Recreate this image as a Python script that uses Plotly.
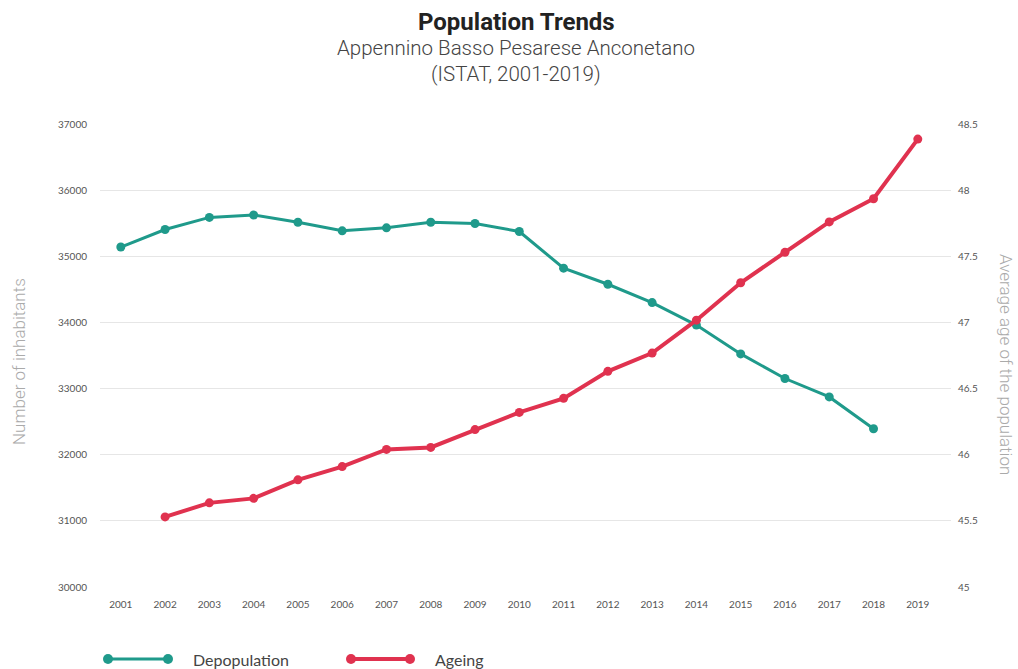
import plotly.graph_objects as go

years = list(range(2001, 2020))
inhabitants_years = list(range(2001, 2019))
inhabitants = [35140, 35405, 35588, 35625, 35515, 35385, 35430, 35515, 35495, 35375,
               34820, 34577, 34300, 33960, 33524, 33152, 32874, 32393]
ageing_years = list(range(2002, 2020))
avg_age = [45.53, 45.636, 45.67, 45.81, 45.91, 46.04, 46.055, 46.19, 46.32,
           46.426, 46.63, 46.768, 47.017, 47.30, 47.53, 47.76, 47.935, 48.386]
left_ticks = [30000, 31000, 32000, 33000, 34000, 35000, 36000, 37000]
right_ticks = [45, 45.5, 46, 46.5, 47, 47.5, 48, 48.5]
right_labels = ["45", "45.5", "46", "46.5", "47", "47.5", "48", "48.5"]

TEAL = "#1f9a8b"
RED = "#e0324f"
W, H = 1018, 669
L, R, T, B = 100, 951, 124, 587


def px(x):
    return (x - L) / (R - L)


def py(y):
    return (B - y) / (B - T)


fig = go.Figure()
fig.add_trace(go.Scatter(x=inhabitants_years, y=inhabitants, mode="lines+markers",
                         name="Depopulation", line=dict(color=TEAL, width=3),
                         marker=dict(color=TEAL, size=9), yaxis="y"))
fig.add_trace(go.Scatter(x=ageing_years, y=avg_age, mode="lines+markers",
                         name="Ageing", line=dict(color=RED, width=4),
                         marker=dict(color=RED, size=9), yaxis="y2"))

tickfont = dict(family="Lato, Carlito, sans-serif", size=10, color="#555")

fig.update_layout(
    width=W, height=H,
    margin=dict(l=L, r=W - R, t=T, b=H - B),
    paper_bgcolor="white", plot_bgcolor="white",
    showlegend=False,
    xaxis=dict(range=[2000.53, 2019.75], tickmode="array", tickvals=years,
               ticktext=[str(y) for y in years], showgrid=False, zeroline=False,
               showline=False, ticks="", tickfont=tickfont, ticklabelstandoff=10),
    yaxis=dict(range=[30000, 37000], tickvals=left_ticks,
               ticktext=[str(v) for v in left_ticks], showgrid=True,
               gridcolor="#e6e6e6", gridwidth=1, zeroline=False, ticks="",
               tickfont=tickfont, ticklabelstandoff=12),
    yaxis2=dict(range=[45, 48.5], tickvals=right_ticks, ticktext=right_labels,
                overlaying="y", side="right", showgrid=False, zeroline=False,
                ticks="", tickfont=tickfont, ticklabelstandoff=6),
)

annotations = [
    dict(text="<b>Population Trends</b>", x=px(516), y=py(22), xref="paper", yref="paper",
         showarrow=False, xanchor="center", yanchor="middle",
         font=dict(family="Roboto", size=24, color="#222")),
    dict(text="Appennino Basso Pesarese Anconetano", x=px(516), y=py(48), xref="paper",
         yref="paper", showarrow=False, xanchor="center", yanchor="middle",
         font=dict(family="Roboto", size=20.5, color="#444", weight=300)),
    dict(text="(ISTAT, 2001-2019)", x=px(516), y=py(74), xref="paper", yref="paper",
         showarrow=False, xanchor="center", yanchor="middle",
         font=dict(family="Roboto", size=20.5, color="#444", weight=300)),
    dict(text="Number of inhabitants", x=px(19), y=py(362), xref="paper", yref="paper",
         showarrow=False, textangle=-90, xanchor="center", yanchor="middle",
         font=dict(family="Roboto", size=17, color="#aaa", weight=300)),
    dict(text="Average age of the population", x=px(1006), y=py(364), xref="paper",
         yref="paper", showarrow=False, textangle=90, xanchor="center", yanchor="middle",
         font=dict(family="Roboto", size=17, color="#aaa", weight=300)),
    dict(text="Depopulation", x=px(191), y=py(659), xref="paper", yref="paper",
         showarrow=False, xanchor="left", yanchor="middle",
         font=dict(family="Lato, sans-serif", size=16, color="#444")),
    dict(text="Ageing", x=px(433), y=py(659), xref="paper", yref="paper",
         showarrow=False, xanchor="left", yanchor="middle",
         font=dict(family="Lato, sans-serif", size=16, color="#444")),
]

shapes = []
for (x0, x1, col, w) in [(108, 168, TEAL, 3), (351, 410, RED, 4)]:
    yc = py(659)
    shapes.append(dict(type="line", xref="paper", yref="paper", x0=px(x0), x1=px(x1),
                       y0=yc, y1=yc, line=dict(color=col, width=w)))
    r = 5
    for xc in (x0, x1):
        shapes.append(dict(type="circle", xref="paper", yref="paper",
                           x0=px(xc - r), x1=px(xc + r), y0=py(659 + r), y1=py(659 - r),
                           fillcolor=col, line=dict(color=col, width=0)))

fig.update_layout(annotations=annotations, shapes=shapes)
fig.write_html("out.html")
